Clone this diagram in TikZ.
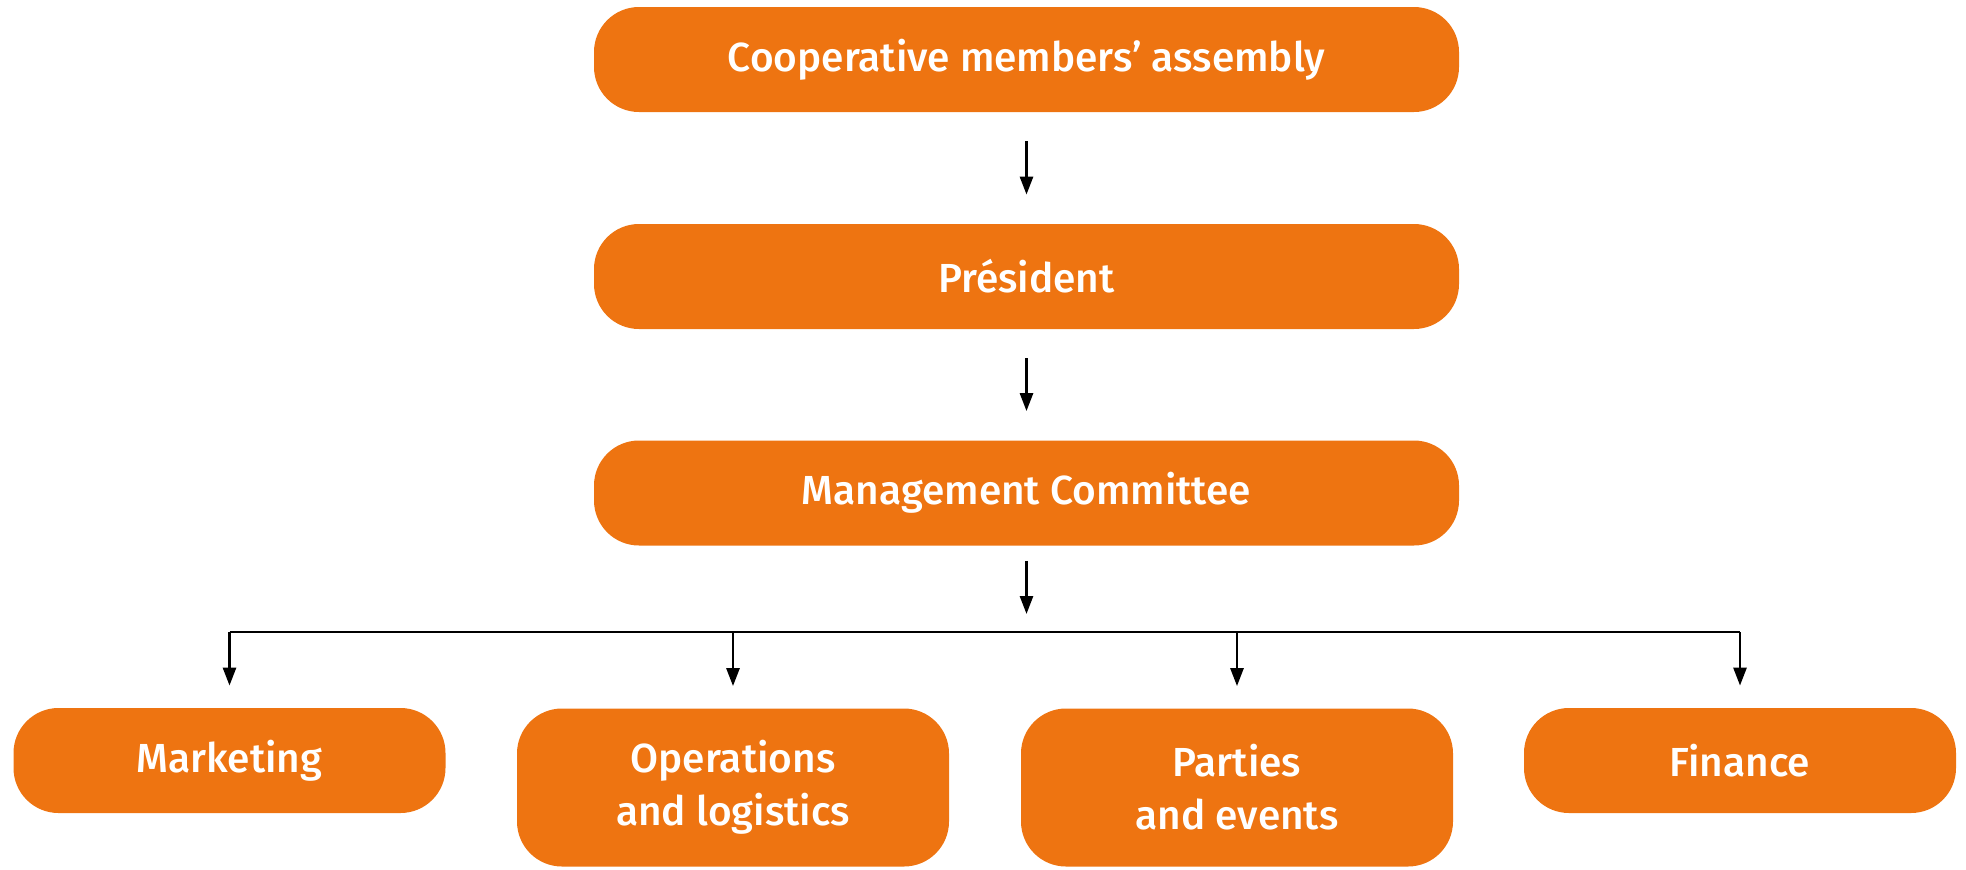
\documentclass[tikz,border=0pt]{standalone}
\usepackage{fontspec}
\setmainfont{Fira Sans}[UprightFont=* Medium, BoldFont=* SemiBold]
\usetikzlibrary{arrows.meta}
\definecolor{boxorange}{RGB}{238,116,17}
\tikzset{
  box/.style={fill=boxorange, text=white, rounded corners=22.5pt, inner sep=0pt,
    align=center, font=\fontsize{20.3}{26.5}\selectfont, minimum height=52.5pt},
  widebox/.style={box, minimum width=432.5pt},
  smallbox/.style={box, minimum width=216pt},
  tallbox/.style={box, minimum width=216pt, minimum height=79pt},
  arr/.style={line width=1.35pt, -{Triangle[length=9pt,width=6.5pt]}},
  bus/.style={line width=1.35pt}
}
\begin{document}
\begin{tikzpicture}[x=0.5pt,y=-0.5pt]
\useasboundingbox (0,0) rectangle (1966,869);
\node[widebox] (top) at (1026.5,59.5) {Cooperative members' assembly};
\node[widebox] (pres) at (1026.5,276.5) {Président};
\node[widebox] (mgmt) at (1026.5,493) {Management Committee};
\node[smallbox] (mkt) at (229.5,760.5) {Marketing};
\node[tallbox] (ops) at (733,787.5) {Operations\\and logistics};
\node[tallbox] (par) at (1237,787.5) {Parties\\and events};
\node[smallbox] (fin) at (1740,760.5) {Finance};
\coordinate (hub) at (1026.5,632);
\draw[arr, shorten <=14.5pt, shorten >=14.5pt] (top) -- (pres);
\draw[arr, shorten <=14.5pt, shorten >=14.5pt] (pres) -- (mgmt);
\draw[arr, shorten <=7.5pt, shorten >=9pt] (mgmt) -- (hub);
\draw[bus] (mkt |- hub) -- (fin |- hub);
\foreach \n in {mkt,ops,par,fin}{
  \draw[arr, shorten >=11pt] (\n |- hub) -- (\n);
}
\end{tikzpicture}
\end{document}
